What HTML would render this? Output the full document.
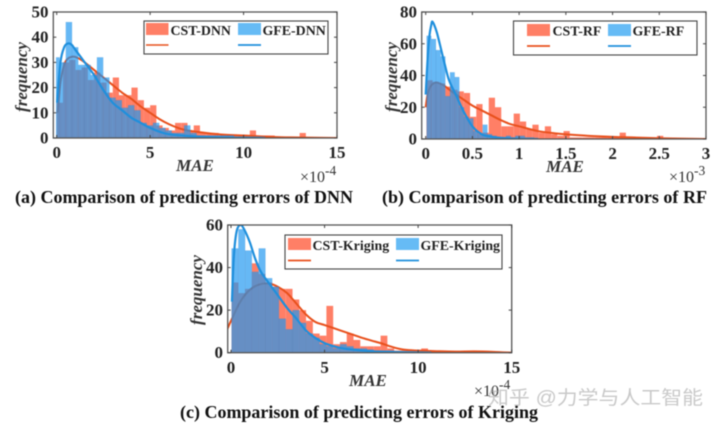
<!DOCTYPE html>
<html lang="en">
<head>
<meta charset="utf-8">
<title>Comparison of predicting errors</title>
<style>
html,body{margin:0;padding:0;background:#fff;}
body{width:720px;height:427px;overflow:hidden;}
#figure{display:block;filter:blur(0.6px);}
text{font-family:"Liberation Serif","Noto Serif CJK SC",serif;fill:#222;}
.tick{font-weight:bold;font-size:17px;}
.leg{font-weight:bold;font-size:13.9px;}
.axt{font-weight:bold;font-style:italic;font-size:17px;fill:#333;}
.cap{font-weight:bold;font-size:18px;fill:#111;}
.exp{font-size:16px;fill:#333;}
.exps{font-size:13.5px;fill:#333;}
.box{fill:none;stroke:#555;stroke-width:1.3;}
.lbox{fill:#fff;stroke:#444;stroke-width:1.1;}
</style>
</head>
<body>
<svg id="figure" xmlns="http://www.w3.org/2000/svg" width="720" height="427" viewBox="0 0 720 427">
  <defs>
    <clipPath id="clip-a"><rect x="56" y="12" width="281" height="126"/></clipPath>
    <clipPath id="clip-b"><rect x="422" y="12" width="284" height="127"/></clipPath>
    <clipPath id="clip-c"><rect x="228" y="225" width="284" height="128"/></clipPath>
  </defs>

  <g id="panel-a">
    <g id="marks-a" clip-path="url(#clip-a)"></g>
    <rect class="box" x="53.3" y="12" width="283.7" height="126"/>
    <g id="ticks-a"></g>
    <text class="axt" x="195" y="171" text-anchor="middle">MAE</text>
    <text class="axt" transform="translate(27,77) rotate(-90)" text-anchor="middle">frequency</text>
    <text class="exp" x="300" y="182">×10<tspan class="exps" dy="-7">-4</tspan></text>
    <g>
      <rect class="lbox" x="144" y="21" width="184" height="33"/>
      <rect x="146" y="23" width="22.5" height="12" fill="#ff7f66"/>
      <text class="leg" x="170.5" y="35">CST-DNN</text>
      <rect x="238" y="23" width="23" height="12" fill="#66bbf5"/>
      <text class="leg" x="262.5" y="35">GFE-DNN</text>
      <line x1="146" x2="168.5" y1="45" y2="45" stroke="#e8501c" stroke-width="1.4"/>
      <line x1="238" x2="261" y1="45" y2="45" stroke="#1f8fdc" stroke-width="1.8"/>
    </g>
    <text class="cap" x="15" y="203" textLength="338" lengthAdjust="spacingAndGlyphs">(a) Comparison of predicting errors of DNN</text>
  </g>

  <g id="panel-b">
    <g id="marks-b" clip-path="url(#clip-b)"></g>
    <rect class="box" x="421.7" y="12" width="284.3" height="127"/>
    <g id="ticks-b"></g>
    <text class="axt" x="565" y="172" text-anchor="middle">MAE</text>
    <text class="axt" transform="translate(397,77) rotate(-90)" text-anchor="middle">frequency</text>
    <text class="exp" x="669" y="182">×10<tspan class="exps" dy="-7">-3</tspan></text>
    <g>
      <rect class="lbox" x="513.5" y="21" width="183.5" height="34"/>
      <rect x="527" y="24" width="23" height="12" fill="#ff7f66"/>
      <text class="leg" x="552.5" y="35.5">CST-RF</text>
      <rect x="608" y="24" width="23" height="12" fill="#66bbf5"/>
      <text class="leg" x="632.5" y="35.5">GFE-RF</text>
      <line x1="527" x2="550" y1="46" y2="46" stroke="#e8501c" stroke-width="1.8"/>
      <line x1="608" x2="631" y1="46" y2="46" stroke="#1f8fdc" stroke-width="1.8"/>
    </g>
    <text class="cap" x="382" y="203" textLength="325" lengthAdjust="spacingAndGlyphs">(b) Comparison of predicting errors of RF</text>
  </g>

  <g id="panel-c">
    <g id="marks-c" clip-path="url(#clip-c)"></g>
    <rect class="box" x="227.7" y="225" width="284" height="127.7"/>
    <g id="ticks-c"></g>
    <text class="axt" x="368" y="386" text-anchor="middle">MAE</text>
    <text class="axt" transform="translate(202,290) rotate(-90)" text-anchor="middle">frequency</text>
    <text class="exp" x="474" y="396">×10<tspan class="exps" dy="-7">-4</tspan></text>
    <g>
      <rect class="lbox" x="285" y="235" width="217" height="34"/>
      <rect x="288" y="238" width="23" height="12" fill="#ff7f66"/>
      <text class="leg" x="312.5" y="250">CST-Kriging</text>
      <rect x="396" y="238" width="23" height="12" fill="#66bbf5"/>
      <text class="leg" x="420.5" y="250">GFE-Kriging</text>
      <line x1="288" x2="311" y1="260.5" y2="260.5" stroke="#e8501c" stroke-width="1.8"/>
      <line x1="396" x2="419" y1="260.5" y2="260.5" stroke="#1f8fdc" stroke-width="1.8"/>
    </g>
    <text class="cap" x="180" y="418" textLength="358" lengthAdjust="spacingAndGlyphs">(c) Comparison of predicting errors of Kriging</text>
  </g>

  <text x="488" y="404" font-size="19" textLength="215" lengthAdjust="spacingAndGlyphs" style="font-family:'Liberation Sans','Noto Sans CJK SC',sans-serif;fill:#a5a5a5;fill-opacity:.6;">知乎 @力学与人工智能</text>
</svg>

<script>
// ---- Panel (a) DNN data ----
const dnnCstCounts = [14,30,31,27,28,23,26,22,18,24,17,17,20,15,12,13,5,4,3,6,6,3,5,2,2,2,1,1,1,1,1,3,1,1,1,0.5,0.5,0,0.5,2];
const dnnGfeCounts = [32,30,46,36,29,29,25,32,24,16,15,12,13,11,6,5,6,4,3,2,2,5,2,1,1,1,1,1,1,0.5,0.5,0.5,0.5,0.5];
const dnnCstCurveX = [0.05,0.2,0.4,0.6,0.9,1.2,1.5,2,2.5,3,3.5,4,4.5,5,5.5,6,6.5,7,8,9,10,11,12,13,15];
const dnnCstCurveY = [10,22,29,31.5,32.3,31.5,30,27,24,21,18,15.5,12.5,10,7.5,5.5,4,3,2,1.3,1,0.6,0.3,0.2,0];
const dnnGfeCurveX = [0.02,0.2,0.4,0.6,0.8,1,1.5,2,2.5,3,3.5,4,4.5,5,5.5,6,7,8,9,10,11];
const dnnGfeCurveY = [14,30,36,37.5,37,35,30,25,19,14,11,8,6,4,2.5,1.5,0.8,0.4,0.2,0.1,0];
const dnnXTicks = [0,5,10,15];
const dnnYTicks = [0,10,20,30,40,50];

// ---- Panel (b) RF data ----
const rfCstCounts = [37,36,35,33,31,30,29,14,22,4,26,20,8,8,16,11,6,9,4,8,3,2,5,1,1,1,1,1,1,1,1,4,1,1,0.5,0.5,0.5,2];
const rfGfeCounts = [65,63,56,52,27,42,39,20,14,13,5,3,9,3,2,1,1,2,1,2,2,1,1,0.5];
const rfCstCurveX = [0,0.02,0.05,0.1,0.15,0.2,0.3,0.4,0.5,0.6,0.7,0.8,0.9,1,1.2,1.4,1.6,1.8,2,2.2,2.5,3];
const rfCstCurveY = [20,28,33,35.5,35,33.5,29,25,21,18,15,12,9.5,8,5,3.5,2.5,1.8,1.3,1,0.5,0];
const rfGfeCurveX = [0,0.02,0.04,0.06,0.07,0.09,0.12,0.15,0.2,0.25,0.33,0.4,0.5,0.6,0.7,0.8,1,1.2];
const rfGfeCurveY = [28,50,65,72,74,72,67,60,48,37,27,18,8,3,1.5,0.7,0.2,0];
const rfXTicks = [0,0.5,1,1.5,2,2.5,3];
const rfYTicks = [0,20,40,60,80];

// ---- Panel (c) Kriging data ----
const krgCstCounts = [33,28,30,42,37,33,31,30,30,25,20,15,9,8,22,4,5,9,6,3,3,3,8,2,1,1,1,1,2,1,0.5,0.5,0.5,0.5,0.5,0.5,0.5,0.5,0.3,0.3,0.3];
const krgGfeCounts = [49,58,48,38,49,35,31,16,11,20,14,9,7,4,3,2,4,3,2,2,1.5,1,1,1,0.5,0.5,0.5,0.3,0.2];
const krgCstCurveX = [-0.2,0,0.5,1,1.5,2,2.5,3,3.5,4,4.5,5,5.5,6,6.5,7,7.5,8,8.5,9,9.5,10,11,12,13,14,15];
const krgCstCurveY = [11,15,24,29.5,32,32.5,31,28,23,18,14.5,13,11.5,10,8.5,7,5.7,4.5,3,1.8,1.2,1,0.7,0.5,0.6,0.4,0];
const krgGfeCurveX = [0.05,0.15,0.3,0.5,0.7,1,1.3,1.6,2,2.5,3,3.5,4,4.5,5,5.5,6,7,8,9,10.7];
const krgGfeCurveY = [24,45,57,60,58,52,44,38,33,27,21,16,10.5,7,4.5,3,2,1,0.5,0.3,0];
const krgXTicks = [0,5,10,15];
const krgYTicks = [0,20,40,60];

const SVG_NS = 'http://www.w3.org/2000/svg';

function makeScale(d0, d1, r0, r1) {
  return function (v) { return r0 + (v - d0) * (r1 - r0) / (d1 - d0); };
}

function smoothPath(xs, ys, sx, sy) {
  const p = xs.map(function (x, i) { return [sx(x), sy(ys[i])]; });
  let d = 'M' + p[0][0] + ' ' + p[0][1];
  for (let i = 0; i < p.length - 1; i++) {
    const a = p[Math.max(0, i - 1)], b = p[i], c = p[i + 1], e = p[Math.min(p.length - 1, i + 2)];
    const c1x = b[0] + (c[0] - a[0]) / 6, c1y = b[1] + (c[1] - a[1]) / 6;
    const c2x = c[0] - (e[0] - b[0]) / 6, c2y = c[1] - (e[1] - b[1]) / 6;
    d += 'C' + c1x + ' ' + c1y + ' ' + c2x + ' ' + c2y + ' ' + c[0] + ' ' + c[1];
  }
  return d;
}

function drawBars(group, counts, start, width, sx, sy, fill, opacity, stroke) {
  counts.forEach(function (v, i) {
    const x0 = sx(start + i * width), x1 = sx(start + (i + 1) * width);
    const el = document.createElementNS(SVG_NS, 'rect');
    
    
    el.setAttribute('x', x0);
    el.setAttribute('y', sy(v));
    el.setAttribute('width', x1 - x0);
    el.setAttribute('height', sy(0) - sy(v));
    el.setAttribute('fill', fill);
    el.setAttribute('fill-opacity', opacity);
    if (stroke) {
      el.setAttribute('stroke', stroke);
      el.setAttribute('stroke-width', '0.3');
    }
    group.appendChild(el);
  });
}

function drawCurve(group, xs, ys, sx, sy, color, w) {
  const el = document.createElementNS(SVG_NS, 'path');
  
  
  el.setAttribute('d', smoothPath(xs, ys, sx, sy));
  el.setAttribute('fill', 'none');
  el.setAttribute('stroke', color);
  el.setAttribute('stroke-width', w);
  group.appendChild(el);
}

function drawTicks(group, xTicks, yTicks, sx, sy, box, xLabelY, yLabelX) {
  xTicks.forEach(function (t) {
    [[box.bottom, box.bottom - 3], [box.top, box.top + 3]].forEach(function (s) {
      const ln = document.createElementNS(SVG_NS, 'line');
      
      
      ln.setAttribute('x1', sx(t));
      ln.setAttribute('x2', sx(t));
      ln.setAttribute('y1', s[0]);
      ln.setAttribute('y2', s[1]);
      ln.setAttribute('stroke', '#444');
      group.appendChild(ln);
    });
    const tx = document.createElementNS(SVG_NS, 'text');
    
    
    tx.setAttribute('class', 'tick');
    tx.setAttribute('x', sx(t));
    tx.setAttribute('y', xLabelY);
    tx.setAttribute('text-anchor', 'middle');
    tx.textContent = String(t);
    group.appendChild(tx);
  });
  yTicks.forEach(function (t) {
    [[box.left, box.left + 3], [box.right, box.right - 3]].forEach(function (s) {
      const ln = document.createElementNS(SVG_NS, 'line');
      
      
      ln.setAttribute('x1', s[0]);
      ln.setAttribute('x2', s[1]);
      ln.setAttribute('y1', sy(t));
      ln.setAttribute('y2', sy(t));
      ln.setAttribute('stroke', '#444');
      group.appendChild(ln);
    });
    const tx = document.createElementNS(SVG_NS, 'text');
    
    
    tx.setAttribute('class', 'tick');
    tx.setAttribute('x', yLabelX);
    tx.setAttribute('y', sy(t) + 5.5);
    tx.setAttribute('text-anchor', 'end');
    tx.textContent = String(t);
    group.appendChild(tx);
  });
}

const ORANGE = '#ff7f66', CURVE_O = '#e8501c', BLUE = '#1e96f0', CURVE_B = '#1f8fdc';

function drawPanel(id, o) {
  const marks = document.getElementById('marks-' + id);
  const ticks = document.getElementById('ticks-' + id);
  const sx = makeScale(0, o.xMax, o.x0, o.x1);
  const sy = makeScale(0, o.yMax, o.box.bottom, o.box.top);
  drawBars(marks, o.cst, o.cstStart, o.cstWidth, sx, sy, ORANGE, 1, null);
  drawCurve(marks, o.cstX, o.cstY, sx, sy, CURVE_O, 2);
  drawBars(marks, o.gfe, o.gfeStart, o.gfeWidth, sx, sy, BLUE, 0.68, 'rgba(50,90,150,0.2)');
  drawCurve(marks, o.gfeX, o.gfeY, sx, sy, CURVE_B, 2.2);
  drawTicks(ticks, o.xTicks, o.yTicks, sx, sy, o.box, o.xLabelY, o.yLabelX);
}

drawPanel('a', {
  xMax: 15, yMax: 50, x0: 56.7, x1: 337,
  box: {left: 53.3, right: 337, top: 12, bottom: 138},
  cst: dnnCstCounts, cstStart: 0, cstWidth: 1 / 3,
  gfe: dnnGfeCounts, gfeStart: -0.18, gfeWidth: 1 / 3,
  cstX: dnnCstCurveX, cstY: dnnCstCurveY, gfeX: dnnGfeCurveX, gfeY: dnnGfeCurveY,
  xTicks: dnnXTicks, yTicks: dnnYTicks, xLabelY: 158, yLabelX: 48.5
});
drawPanel('b', {
  xMax: 3, yMax: 80, x0: 425.7, x1: 706,
  box: {left: 421.7, right: 706, top: 12, bottom: 139},
  cst: rfCstCounts, cstStart: 0.008, cstWidth: 0.0667,
  gfe: rfGfeCounts, gfeStart: 0.01, gfeWidth: 0.05,
  cstX: rfCstCurveX, cstY: rfCstCurveY, gfeX: rfGfeCurveX, gfeY: rfGfeCurveY,
  xTicks: rfXTicks, yTicks: rfYTicks, xLabelY: 159, yLabelX: 417
});
drawPanel('c', {
  xMax: 15, yMax: 60, x0: 231, x1: 511.7,
  box: {left: 227.7, right: 511.7, top: 225, bottom: 352.7},
  cst: krgCstCounts, cstStart: 0.03, cstWidth: 0.362,
  gfe: krgGfeCounts, gfeStart: 0.03, gfeWidth: 0.362,
  cstX: krgCstCurveX, cstY: krgCstCurveY, gfeX: krgGfeCurveX, gfeY: krgGfeCurveY,
  xTicks: krgXTicks, yTicks: krgYTicks, xLabelY: 373, yLabelX: 223
});
</script>
</body>
</html>
